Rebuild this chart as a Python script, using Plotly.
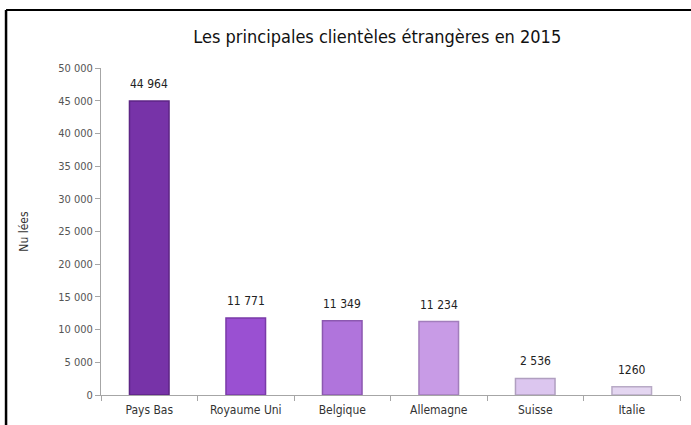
import plotly.graph_objects as go

categories = ["Pays Bas", "Royaume Uni", "Belgique", "Allemagne", "Suisse", "Italie"]
values = [44964, 11771, 11349, 11234, 2536, 1260]
value_labels = ["44 964", "11 771", "11 349", "11 234", "2 536", "1260"]
colors = ["#7733a8", "#9a50d2", "#b074dc", "#c89be6", "#dcc6ef", "#e4d6f1"]
edge_colors = ["#5d2585", "#7a3aa8", "#8c58b0", "#a27ebc", "#b09fc0", "#b8aac6"]

font_family = "DejaVu Sans Condensed, Liberation Sans, sans-serif"

fig = go.Figure()
fig.add_trace(go.Bar(
    x=categories, y=values,
    marker=dict(color=colors, line=dict(color=edge_colors, width=1.5)),
    width=0.41,
    hoverinfo="x+y",
))

annotations = [
    dict(x=c, y=v, text=t, showarrow=False, xref="x", yref="y",
         yanchor="middle", yshift=17,
         font=dict(size=12, color="#222222", family=font_family))
    for c, v, t in zip(categories, values, value_labels)
]

fig.update_layout(
    width=691, height=425,
    margin=dict(l=101, r=11, t=68, b=30, autoexpand=False),
    paper_bgcolor="white", plot_bgcolor="white",
    separators=", ",
    showlegend=False,
    annotations=annotations,
    title=dict(text="Les principales clientèles étrangères en 2015",
               x=0.546, xanchor="center", y=0.913, yanchor="middle",
               font=dict(size=18, color="#111111", family=font_family)),
    font=dict(family=font_family, color="#595959", size=11),
    xaxis=dict(showline=True, linecolor="#a6a6a6", linewidth=1,
               ticks="outside", ticklen=5, tickcolor="#a6a6a6",
               tickson="boundaries", automargin=False, ticklabelstandoff=4,
               tickfont=dict(size=12, color="#333333"),
               showgrid=False),
    yaxis=dict(range=[0, 50000], dtick=5000, tickformat=",d",
               showline=True, linecolor="#a6a6a6", linewidth=1,
               ticks="outside", ticklen=5, tickcolor="#a6a6a6",
               showgrid=False, zeroline=False, automargin=False,
               tickfont=dict(size=11, color="#555555"),
               title=dict(text="Nu lées", standoff=26,
                          font=dict(size=12, color="#333333"))),
    shapes=[
        dict(type="line", xref="paper", yref="paper", x0=-0.164, x1=1.03, y0=1.177, y1=1.177,
             line=dict(color="black", width=2)),
        dict(type="line", xref="paper", yref="paper", x0=-0.164, x1=-0.164, y0=1.177, y1=-0.12,
             line=dict(color="black", width=2.5)),
    ],
)

fig.write_html("out.html", config={"displayModeBar": False},
               post_script="document.body.style.margin='0';document.body.style.overflow='hidden';")
